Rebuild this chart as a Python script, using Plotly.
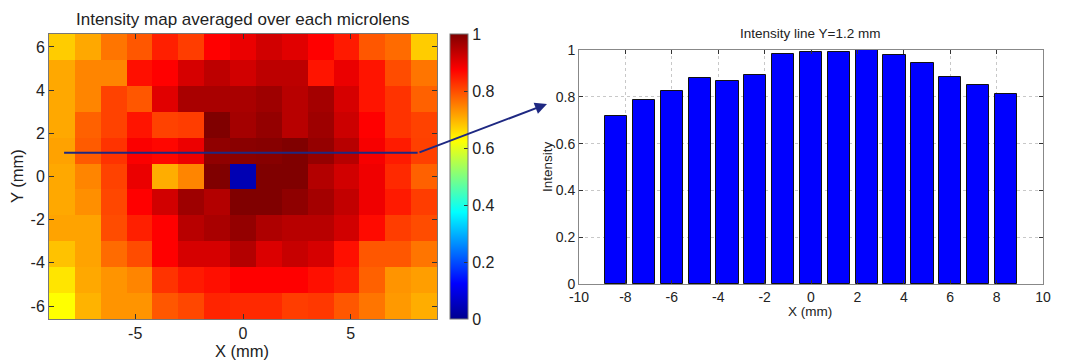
import plotly.graph_objects as go

# ---------------- data ----------------
x_centers = [-8.4, -7.2, -6.0, -4.8, -3.6, -2.4, -1.2, 0.0, 1.2, 2.4, 3.6, 4.8, 6.0, 7.2, 8.4]
y_centers = [6.0, 4.8, 3.6, 2.4, 1.2, 0.0, -1.2, -2.4, -3.6, -4.8, -6.0]

row_y6_0 = [0.675, 0.71, 0.76, 0.79, 0.845, 0.815, 0.875, 0.895, 0.92, 0.905, 0.875, 0.85, 0.79, 0.77, 0.675]
row_y4_8 = [0.71, 0.745, 0.745, 0.86, 0.875, 0.915, 0.94, 0.92, 0.94, 0.94, 0.855, 0.895, 0.855, 0.80, 0.76]
row_y3_6 = [0.71, 0.745, 0.81, 0.79, 0.905, 0.96, 0.96, 0.96, 0.97, 0.945, 0.965, 0.915, 0.855, 0.825, 0.78]
row_y2_4 = [0.71, 0.78, 0.81, 0.855, 0.81, 0.815, 1.0, 0.965, 0.98, 0.945, 0.97, 0.925, 0.875, 0.825, 0.81]
row_y1_2 = [0.716, 0.786, 0.825, 0.879, 0.869, 0.893, 0.984, 0.990, 0.993, 1.0, 0.979, 0.946, 0.883, 0.849, 0.812]
row_y0_0 = [0.71, 0.745, 0.81, 0.895, 0.705, 0.745, 1.0, 0.04, 1.0, 1.0, 0.95, 0.92, 0.89, 0.835, 0.78]
row_ym1_2 = [0.71, 0.735, 0.805, 0.875, 0.92, 0.97, 0.95, 1.0, 1.0, 0.985, 0.965, 0.935, 0.89, 0.85, 0.815]
row_ym2_4 = [0.715, 0.715, 0.8, 0.845, 0.875, 0.945, 0.96, 0.98, 0.955, 0.945, 0.945, 0.92, 0.865, 0.815, 0.8]
row_ym3_6 = [0.685, 0.715, 0.77, 0.8, 0.875, 0.915, 0.915, 0.95, 0.91, 0.93, 0.915, 0.86, 0.79, 0.79, 0.76]
row_ym4_8 = [0.65, 0.71, 0.73, 0.745, 0.825, 0.85, 0.86, 0.875, 0.875, 0.875, 0.86, 0.845, 0.78, 0.73, 0.72]
row_ym6_0 = [0.625, 0.7, 0.73, 0.73, 0.79, 0.805, 0.84, 0.835, 0.835, 0.815, 0.82, 0.79, 0.76, 0.725, 0.705]

intensity_map = [row_y6_0, row_y4_8, row_y3_6, row_y2_4, row_y1_2, row_y0_0,
                 row_ym1_2, row_ym2_4, row_ym3_6, row_ym4_8, row_ym6_0]

line_row_values = row_y1_2   # profile along Y = 1.2 mm

map_xticks = [-5, 0, 5]
map_xticktext = ["-5", "0", "5"]
map_yticks = [-6, -4, -2, 0, 2, 4, 6]
map_yticktext = ["-6", "-4", "-2", "0", "2", "4", "6"]
cbar_ticks = [0, 0.2, 0.4, 0.6, 0.8, 1]
cbar_ticktext = ["0", "0.2", "0.4", "0.6", "0.8", "1"]
bar_xticks = [-10, -8, -6, -4, -2, 0, 2, 4, 6, 8, 10]
bar_xticktext = ["-10", "-8", "-6", "-4", "-2", "0", "2", "4", "6", "8", "10"]
bar_yticks = [0, 0.2, 0.4, 0.6, 0.8, 1]
bar_yticktext = ["0", "0.2", "0.4", "0.6", "0.8", "1"]

# ---------------- styling ----------------
PAGE_OFF = 8                      # default body margin of the html page
W, H = 1068 - PAGE_OFF, 362 - PAGE_OFF
FONT = "Liberation Sans, Arial, sans-serif"
TXT = "#222222"
jet = [[0.0, "rgb(0,0,143)"], [0.125, "rgb(0,0,255)"], [0.375, "rgb(0,255,255)"],
       [0.625, "rgb(255,255,0)"], [0.875, "rgb(255,0,0)"], [1.0, "rgb(128,0,0)"]]

def px_x(p):
    return (p - PAGE_OFF) / W

def px_y(p):
    return (H - (p - PAGE_OFF)) / H

fig = go.Figure()

fig.add_trace(go.Heatmap(
    x=x_centers, y=y_centers, z=intensity_map,
    zmin=0, zmax=1, colorscale=jet,
    xaxis="x", yaxis="y",
    colorbar=dict(
        x=px_x(450), xanchor="left", y=(px_y(34) + px_y(319)) / 2, yanchor="middle",
        thickness=18, thicknessmode="pixels", len=285, lenmode="pixels",
        outlinecolor="#777777", outlinewidth=1,
        tickvals=cbar_ticks, ticktext=cbar_ticktext, ticks="inside", ticklen=4,
        tickcolor="#333333",
        tickfont=dict(family=FONT, size=16, color=TXT), xpad=0, ypad=0,
    ),
    hoverinfo="skip",
))

fig.add_trace(go.Bar(
    x=x_centers, y=line_row_values, width=0.96,
    marker=dict(color="rgb(0,0,255)", line=dict(color="#111111", width=1)),
    xaxis="x2", yaxis="y2", showlegend=False,
))

common = dict(ticks="inside", tickcolor="#333333", zeroline=False, showline=True,
              mirror="ticks", automargin=False)

fig.update_layout(
    width=W, height=H,
    margin=dict(l=0, r=0, t=0, b=0, autoexpand=False),
    paper_bgcolor="white", plot_bgcolor="white",
    showlegend=False,
    font=dict(family=FONT, color=TXT),
    xaxis=dict(
        domain=[px_x(49), px_x(437)], range=[-9, 9], anchor="y",
        tickvals=map_xticks, ticktext=map_xticktext, ticklen=5,
        showgrid=False, linecolor="#777777", tickfont=dict(size=16), **common,
    ),
    yaxis=dict(
        domain=[px_y(319), px_y(34)], range=[-6.6, 6.6], anchor="x",
        tickvals=map_yticks, ticktext=map_yticktext, ticklen=5,
        showgrid=False, linecolor="#777777", tickfont=dict(size=16), **common,
    ),
    xaxis2=dict(
        domain=[px_x(579), px_x(1043)], range=[-10, 10], anchor="y2",
        tickvals=bar_xticks, ticktext=bar_xticktext, ticklen=4,
        showgrid=True, gridcolor="#c8c8c8", griddash="dot", gridwidth=1,
        linecolor="#888888", tickfont=dict(size=14), **common,
    ),
    yaxis2=dict(
        domain=[px_y(284), px_y(50)], range=[0, 1], anchor="x2",
        tickvals=bar_yticks, ticktext=bar_yticktext, ticklen=4,
        showgrid=True, gridcolor="#c8c8c8", griddash="dot", gridwidth=1,
        linecolor="#888888", tickfont=dict(size=14), **common,
    ),
    bargap=0,
)

def label(text, x, y, size, angle=0, yanchor="middle"):
    fig.add_annotation(text=text, xref="paper", yref="paper", x=px_x(x), y=px_y(y),
                       xanchor="center", yanchor=yanchor, showarrow=False, textangle=angle,
                       font=dict(family=FONT, size=size, color=TXT))

# titles and axis titles
label("Intensity map averaged over each microlens", 243, 8, 17, yanchor="top")
label("X (mm)", 242, 351, 16.5)
label("Y (mm)", 17, 176, 16.5, -90)
label("Intensity line Y=1.2 mm", 810, 34, 13.5)
label("X (mm)", 810, 311, 13.5)
label("Intensity", 547, 167, 13.5, -90)

# marker line on the map and arrow to the profile
NAVY = "rgb(30,40,130)"
fig.add_shape(type="line", xref="x", yref="y", x0=-8.3, x1=8.1, y0=1.1, y1=1.1,
              line=dict(color=NAVY, width=2))
fig.add_annotation(xref="paper", yref="paper", x=px_x(547), y=px_y(104),
                   ax=418 - 547, ay=153 - 104, text="", showarrow=True,
                   arrowhead=2, arrowsize=1.2, arrowwidth=2, arrowcolor=NAVY)

fig.write_html("out.html")
